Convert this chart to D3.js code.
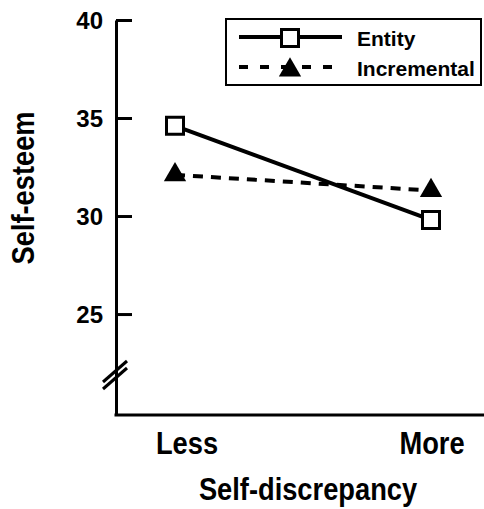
<!DOCTYPE html>
<html>
<head>
<meta charset="utf-8">
<script src="https://cdn.jsdelivr.net/npm/d3@7"></script>
<style>
  body { margin: 0; background: #fff; }
  text { font-family: "Liberation Sans", Arial, sans-serif; font-weight: bold; fill: #000; }
</style>
</head>
<body>
<div id="chart"></div>
<script>
var categories = ["Less", "More"],
    seriesNames = ["Entity", "Incremental"],
    entity = [34.6, 29.8],
    incremental = [32.1, 31.3],
    yTicks = [25, 30, 35, 40];

var w = 484,
    h = 509,
    axisX = 116,
    axisY = 415,
    squeeze = 0.88;

var x = d3.scalePoint().domain(categories).range([175, 431]),
    y = d3.scaleLinear().domain([19.85, 40]).range([axisY, 20]);

var svg = d3.select("#chart").append("svg")
    .attr("width", w)
    .attr("height", h);

// y axis, ticks point inward
var yAxis = svg.append("g")
    .attr("transform", "translate(" + axisX + ",0)")
    .call(d3.axisLeft(y).tickValues(yTicks).tickSizeInner(-16).tickSizeOuter(0).tickPadding(13));
yAxis.select(".domain").attr("stroke", "#000").attr("stroke-width", 3);
yAxis.selectAll(".tick line").attr("stroke", "#000").attr("stroke-width", 3);
yAxis.selectAll(".tick text").attr("font-size", 24).attr("font-family", null).attr("dy", "0.36em");

// x axis line
svg.append("line")
    .attr("x1", axisX - 1.5).attr("x2", w)
    .attr("y1", axisY).attr("y2", axisY)
    .attr("stroke", "#000").attr("stroke-width", 3);

// axis break marks
[0, 7].forEach(function(o) {
  svg.append("line")
      .attr("x1", axisX - 13).attr("y1", 382 + o)
      .attr("x2", axisX + 11).attr("y2", 361 + o)
      .attr("stroke", "#000").attr("stroke-width", 3);
});

svg.selectAll(".cat")
    .data(categories)
  .enter().append("text")
    .attr("class", "cat")
    .attr("transform", function(d) {
      return "translate(" + (x(d) + (d == "Less" ? 12 : 1)) + ",454) scale(" + squeeze + ",1)";
    })
    .attr("text-anchor", "middle")
    .attr("font-size", 31)
    .text(function(d) { return d; });

svg.append("text")
    .attr("transform", "translate(308,500) scale(" + squeeze + ",1)")
    .attr("text-anchor", "middle")
    .attr("font-size", 31)
    .text("Self-discrepancy");

svg.append("text")
    .attr("transform", "translate(34,188) rotate(-90) scale(" + squeeze + ",1)")
    .attr("text-anchor", "middle")
    .attr("font-size", 31)
    .text("Self-esteem");

var line = d3.line()
    .x(function(d, i) { return x(categories[i]); })
    .y(function(d) { return y(d); });

svg.append("path")
    .attr("d", line(incremental))
    .attr("fill", "none").attr("stroke", "#000")
    .attr("stroke-width", 4).attr("stroke-dasharray", "10,8");

svg.append("path")
    .attr("d", line(entity))
    .attr("fill", "none").attr("stroke", "#000")
    .attr("stroke-width", 4);

var tri = d3.symbol().type(d3.symbolTriangle).size(215),
    sq = d3.symbol().type(d3.symbolSquare).size(289);

svg.selectAll(".tri")
    .data(incremental)
  .enter().append("path")
    .attr("class", "tri")
    .attr("transform", function(d, i) { return "translate(" + x(categories[i]) + "," + y(d) + ")"; })
    .attr("d", tri)
    .attr("fill", "#000");

svg.selectAll(".sq")
    .data(entity)
  .enter().append("path")
    .attr("class", "sq")
    .attr("transform", function(d, i) { return "translate(" + x(categories[i]) + "," + y(d) + ")"; })
    .attr("d", sq)
    .attr("fill", "#fff").attr("stroke", "#000").attr("stroke-width", 3);

// legend
var lg = svg.append("g");
lg.append("rect")
    .attr("x", 226).attr("y", 19)
    .attr("width", 255).attr("height", 66)
    .attr("fill", "#fff").attr("stroke", "#000").attr("stroke-width", 2);

lg.append("line")
    .attr("x1", 239).attr("x2", 342).attr("y1", 37).attr("y2", 37)
    .attr("stroke", "#000").attr("stroke-width", 4);
lg.append("path")
    .attr("transform", "translate(290,38)")
    .attr("d", sq)
    .attr("fill", "#fff").attr("stroke", "#000").attr("stroke-width", 3);

lg.append("line")
    .attr("x1", 239).attr("x2", 342).attr("y1", 67).attr("y2", 67)
    .attr("stroke", "#000").attr("stroke-width", 4).attr("stroke-dasharray", "9,12");
lg.append("path")
    .attr("transform", "translate(290,70)")
    .attr("d", tri)
    .attr("fill", "#000");

lg.selectAll(".lt")
    .data(seriesNames)
  .enter().append("text")
    .attr("x", 357)
    .attr("y", function(d, i) { return 46 + i * 30; })
    .attr("font-size", 21)
    .text(function(d) { return d; });
</script>
</body>
</html>
